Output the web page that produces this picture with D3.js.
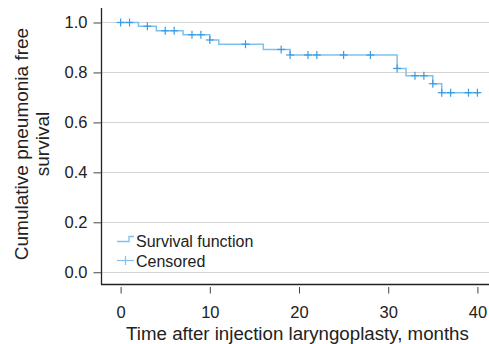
<!doctype html>
<html lang="en">
<head>
<meta charset="UTF-8" />
<script src="https://d3js.org/d3.v7.min.js"></script>
<style>
  body { margin: 0; background: #fff; }
  text { font-family: "Liberation Sans", Arial, sans-serif; fill: #222; }
</style>
</head>
<body>
<div id="chart"></div>
<script>
  // Kaplan-Meier steps (time in months, survival after the drop)
  const eventTimes = [0, 2, 4, 7, 10, 11, 16, 19, 31, 32, 35, 36]
  const survival = [1.0, 0.985, 0.967, 0.951, 0.930, 0.913, 0.892, 0.870, 0.816, 0.787, 0.755, 0.719]
  const lastTime = 40.2
  // censored observations
  const censorTimes = [0, 1, 3, 5, 6, 8, 9, 10, 14, 18, 19, 21, 22, 25, 28, 31, 33, 34, 35, 36, 37, 39, 40]
  const xTicks = [0, 10, 20, 30, 40]
  const yTicks = [0, 0.2, 0.4, 0.6, 0.8, 1.0]

  const W = 489, H = 344
  const svg = d3.select("#chart").append("svg").attr("width", W).attr("height", H)

  const x = d3.scaleLinear().domain([-2.2, 41.3]).range([101, 489])
  const y = d3.scaleLinear().domain([-0.049, 1.058]).range([284.5, 8])

  // gridlines
  svg.append("g").selectAll("line").data(yTicks).join("line")
    .attr("x1", 101).attr("x2", W)
    .attr("y1", d => Math.round(y(d)) + 0.5).attr("y2", d => Math.round(y(d)) + 0.5)
    .attr("stroke", "#d4d4d4").attr("stroke-width", 1)

  // y axis
  const yAxis = svg.append("g").attr("transform", "translate(101.5,0)")
    .call(d3.axisLeft(y).tickValues(yTicks).tickFormat(d3.format(".1f")).tickSize(8).tickPadding(6))
  yAxis.select(".domain").attr("d", `M0,8V${y.range()[0]}`).attr("stroke", "#222").attr("stroke-width", 1.3)
  yAxis.selectAll(".tick line").attr("stroke", "#444")
  yAxis.selectAll(".tick text").attr("font-size", 16.5).attr("font-family", "Liberation Sans, Arial, sans-serif").attr("fill", "#222")

  // x axis
  const xAxis = svg.append("g").attr("transform", "translate(0,284.5)")
    .call(d3.axisBottom(x).tickValues(xTicks).tickSize(0).tickPadding(22))
  xAxis.select(".domain").attr("d", `M101,0H${W}`).attr("stroke", "#222").attr("stroke-width", 1.3)
  xAxis.selectAll(".tick").append("line")
    .attr("y1", 2.5).attr("y2", 9).attr("stroke", "#444")
  xAxis.selectAll(".tick text").attr("font-size", 16.5).attr("font-family", "Liberation Sans, Arial, sans-serif").attr("fill", "#222")

  // survival curve
  const pts = eventTimes.map((t, i) => [t, survival[i]])
  pts.push([lastTime, survival[survival.length - 1]])
  const line = d3.line().x(d => x(d[0])).y(d => y(d[1])).curve(d3.curveStepAfter)
  svg.append("path").datum(pts)
    .attr("d", line)
    .attr("fill", "none").attr("stroke", "#7dc1ef").attr("stroke-width", 1.5)

  const survAt = t => {
    let s = survival[0]
    eventTimes.forEach((e, i) => { if (e <= t) s = survival[i] })
    return s
  }

  // censor marks
  const marks = svg.append("g").selectAll("g").data(censorTimes).join("g")
    .attr("transform", d => `translate(${x(d)},${y(survAt(d))})`)
  marks.append("line").attr("x1", -4).attr("x2", 4).attr("stroke", "#3a9be3").attr("stroke-width", 1.2)
  marks.append("line").attr("y1", -4).attr("y2", 4).attr("stroke", "#3a9be3").attr("stroke-width", 1.2)

  // legend
  const lg = svg.append("g")
  lg.append("path").attr("d", "M117,241.5H129V236.5H134")
    .attr("fill", "none").attr("stroke", "#7dc1ef").attr("stroke-width", 1.3)
  lg.append("text").attr("x", 136).attr("y", 246.5).attr("font-size", 16).text("Survival function")
  lg.append("line").attr("x1", 117).attr("x2", 134).attr("y1", 260.5).attr("y2", 260.5)
    .attr("stroke", "#7dc1ef").attr("stroke-width", 1.2)
  lg.append("line").attr("x1", 125.5).attr("x2", 125.5).attr("y1", 256).attr("y2", 265)
    .attr("stroke", "#7dc1ef").attr("stroke-width", 1.2)
  lg.append("text").attr("x", 136).attr("y", 266.5).attr("font-size", 16).text("Censored")

  // axis titles
  svg.append("text").attr("x", 297.5).attr("y", 340).attr("text-anchor", "middle")
    .attr("font-size", 18.7).text("Time after injection laryngoplasty, months")
  const yl = svg.append("text").attr("transform", "translate(0,144) rotate(-90)")
    .attr("text-anchor", "middle").attr("font-size", 19)
  yl.append("tspan").attr("x", 0).attr("y", 28).text("Cumulative pneumonia free")
  yl.append("tspan").attr("x", 0).attr("y", 49).text("survival")
</script>
</body>
</html>
